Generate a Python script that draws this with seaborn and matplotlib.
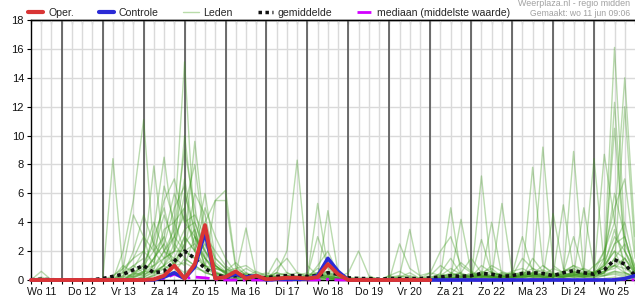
import numpy as np
import pandas as pd
import matplotlib
matplotlib.use("Agg")
import matplotlib.pyplot as plt
import seaborn as sns
from matplotlib.lines import Line2D

# ---- data (6-hourly steps, starting Wo 11 06:00) ----
day_labels = ["Wo 11", "Do 12", "Vr 13", "Za 14", "Zo 15", "Ma 16", "Di 17", "Wo 18",
              "Do 19", "Vr 20", "Za 21", "Zo 22", "Ma 23", "Di 24", "Wo 25"]
y_ticks = [0, 2, 4, 6, 8, 10, 12, 14, 16, 18]

oper = [0, 0, 0, 0, 0, 0, 0, 0, 0, 0, 0, 0, 0.05, 0.3, 1.0, 0.1, 1.1, 3.8, 0.1, 0.2,
        0.6, 0.1, 0.3, 0.05, 0.1, 0.15, 0.15, 0.1, 0.2, 1.1, 0.4, 0.0, 0, 0, 0, 0,
        0, 0, 0, 0]
controle = [0, 0, 0, 0, 0, 0, 0, 0, 0, 0, 0, 0, 0, 0.2, 0.5, 0.1, 0.9, 3.3, 0.1, 0.2,
            0.4, 0.2, 0.3, 0.0, 0.05, 0.05, 0.05, 0.05, 0.3, 1.5, 0.6, 0.0, 0, 0, 0, 0,
            0, 0, 0, 0, 0, 0, 0, 0, 0, 0, 0, 0, 0, 0, 0, 0, 0, 0, 0, 0, 0, 0, 0.1, 0.3]
gemiddelde = [0.02, 0.05, 0.02, 0, 0, 0, 0.02, 0.1, 0.25, 0.4, 0.7, 1.0, 0.5, 0.6, 1.3,
              2.0, 1.5, 0.8, 0.35, 0.2, 0.3, 0.3, 0.2, 0.15, 0.25, 0.3, 0.3, 0.25, 0.3,
              0.5, 0.4, 0.15, 0.1, 0.1, 0.05, 0.1, 0.1, 0.1, 0.1, 0.15, 0.2, 0.3, 0.25,
              0.3, 0.45, 0.4, 0.25, 0.3, 0.45, 0.5, 0.45, 0.3, 0.5, 0.65, 0.5, 0.4, 0.7,
              1.4, 1.1, 0.3]
mediaan = [0, 0, 0, 0, 0, 0, 0, 0, 0, 0, 0, 0, 0.05, 0.1, 0.4, 0.1, 0.2, 0.15, 0.05, 0,
           0, 0, 0, 0, 0, 0, 0, 0, 0, 0.05, 0, 0, 0, 0, 0, 0, 0, 0, 0, 0,
           0, 0, 0, 0, 0, 0, 0, 0, 0, 0, 0, 0, 0, 0, 0, 0, 0, 0.05, 0.05, 0]

m01 = [0, 0.6, 0, 0, 0, 0, 0, 0, 0.3, 0.8, 1.5, 2.0, 1.2, 3.5, 4.0, 15.1, 3.0, 1.5, 0.5, 0.3, 0.2, 0.5, 0.1, 0, 0.2, 0.1, 0, 0, 0.4, 1.2, 0.3, 0, 0, 0, 0, 0, 0.2, 0.5, 0.1, 0, 0.3, 0.8, 0.4, 0.2, 1.0, 0.5, 0.3, 0.1, 0.4, 0.8, 0.3, 0.2, 0.5, 1.0, 0.4, 0.3, 1.5, 16.1, 3.0, 0.5]
m02 = [0, 0, 0, 0, 0, 0, 0, 0, 8.4, 0.5, 0.2, 0.6, 1.5, 2.5, 5.0, 6.5, 2.0, 0.8, 5.5, 6.2, 1.0, 0.3, 0.2, 0.1, 0, 0.3, 0.5, 0.2, 0.8, 0.5, 0.1, 0, 0, 0.1, 0, 0.3, 0.6, 0.2, 0, 0.1, 0.2, 0.4, 1.2, 0.6, 0.3, 0.2, 0.5, 0.4, 0.2, 1.5, 0.6, 0.3, 0.2, 0.4, 0.8, 0.5, 2.0, 4.0, 14.0, 3.0]
m03 = [0, 0, 0, 0, 0, 0, 0, 0, 0, 2.0, 5.5, 11.1, 2.0, 3.0, 1.0, 2.5, 9.6, 3.0, 1.0, 0.5, 0.3, 0.8, 0.4, 0.1, 0, 0, 0.2, 0.3, 0.5, 0.2, 0, 0, 0, 0, 0, 0, 0, 0.1, 0, 0, 0.2, 0.5, 0.3, 0.1, 0.5, 0.8, 0.2, 0.3, 0.6, 0.3, 9.2, 1.0, 0.5, 0.3, 0.2, 0.5, 1.0, 3.5, 1.0, 0.2]
m04 = [0, 0, 0, 0, 0, 0, 0, 0, 0, 0.5, 1.0, 1.5, 7.9, 2.0, 3.0, 4.5, 2.5, 6.0, 1.5, 0.8, 0.4, 3.6, 0.3, 0.5, 0.2, 0.3, 0.1, 0, 0.3, 0.6, 0.2, 0, 0.1, 0, 0, 0.2, 0.3, 0.1, 0, 0, 0.1, 0.2, 0.1, 0, 7.2, 0.3, 0.5, 0.2, 0.1, 0.4, 0.2, 0, 0.3, 0.5, 0.8, 8.4, 1.0, 2.0, 0.5, 0.3]
m05 = [0, 0, 0, 0, 0, 0, 0, 0, 0, 0, 0.5, 1.0, 3.0, 5.0, 2.0, 3.5, 4.0, 2.0, 1.0, 0.5, 0.2, 0.2, 0.1, 0, 0.5, 2.0, 8.3, 1.0, 0.3, 0.2, 0, 0, 0, 0, 0, 0.1, 0, 0, 0, 0, 0, 0.3, 0.5, 0.2, 0.4, 0.2, 0.1, 0.2, 0.3, 7.8, 1.0, 0.4, 0.2, 0.6, 0.3, 0.2, 0.5, 1.5, 2.5, 1.0]
m06 = [0, 0, 0, 0, 0, 0, 0, 0, 0.2, 1.0, 0.5, 0.3, 1.0, 6.5, 4.0, 2.0, 6.0, 4.5, 1.2, 0.6, 0.5, 0.3, 0.2, 0.1, 0.1, 0.1, 0, 0.2, 5.3, 0.8, 0.2, 0, 0, 0.2, 0.1, 0, 0.1, 0, 0, 0.2, 0.4, 0.3, 0.2, 0.5, 0.2, 0.1, 0.3, 0, 0.5, 0.3, 0.2, 4.6, 0.8, 0.4, 0.2, 0.4, 0.6, 12.3, 2.0, 0.8]
m07 = [0, 0.2, 0, 0, 0, 0, 0, 0, 0, 0.3, 2.0, 4.5, 2.5, 1.5, 3.0, 7.0, 3.0, 1.5, 0.5, 0.3, 0.3, 0.2, 0.1, 0, 0.3, 0.2, 0.1, 0, 0.2, 4.8, 0.5, 0, 0, 0, 0, 0, 0.3, 3.5, 0.2, 0.1, 0.2, 0.2, 0.1, 0.3, 0.4, 0.6, 0.2, 0.2, 0.2, 0.3, 0.5, 0.3, 5.2, 0.6, 0.4, 0.5, 0.8, 1.0, 1.5, 0.4]
m08 = [0, 0, 0, 0, 0, 0, 0, 0, 0, 0, 0.2, 0.5, 1.5, 3.0, 6.0, 4.0, 3.0, 1.0, 0.8, 0.6, 1.2, 0.5, 0.3, 0.2, 0.5, 0.3, 0.1, 0, 0.1, 0.3, 0.1, 0, 0, 0, 0, 0, 0, 0, 0.1, 0.5, 0.3, 5.0, 0.4, 0.2, 0.3, 4.0, 0.3, 0.2, 0.4, 0.2, 0.1, 0.3, 0.4, 8.9, 0.5, 0.4, 1.0, 10.5, 2.0, 0.5]
m09 = [0, 0, 0, 0, 0, 0, 0, 0, 0, 0.6, 1.5, 3.0, 2.0, 4.5, 2.5, 5.0, 8.0, 2.5, 1.0, 0.4, 0.3, 0.2, 0.6, 0.3, 0.2, 0.1, 0.1, 0.3, 0.5, 0.5, 0.3, 0.2, 0, 0, 0, 0, 0.2, 0.3, 0.1, 0, 0.1, 0.3, 0.5, 1.5, 0.5, 0.2, 5.3, 0.5, 0.3, 0.5, 0.2, 0.3, 0.2, 0.3, 5.0, 0.8, 2.0, 5.0, 7.0, 1.5]
m10 = [0, 0, 0, 0, 0, 0, 0, 0, 0, 0.2, 0.8, 2.0, 4.0, 2.0, 1.0, 3.0, 2.0, 4.0, 5.5, 5.5, 0.8, 0.4, 0.2, 0.2, 0.3, 0.5, 0.2, 0.1, 1.0, 2.0, 0.4, 0.1, 0.2, 0, 0, 0, 0, 0, 0, 0, 0.2, 0.1, 0.3, 0.2, 0.2, 0.5, 0.3, 0.6, 0.8, 0.4, 0.3, 0.2, 0.4, 0.3, 0.6, 0.5, 8.7, 4.0, 1.0, 0.3]
m11 = [0, 0, 0, 0, 0, 0, 0, 0, 0, 0, 0.4, 0.8, 1.0, 2.0, 3.5, 9.0, 5.0, 1.5, 0.8, 0.5, 0.6, 0.3, 0.2, 0.1, 0, 0.3, 0.2, 0.2, 0.3, 0.5, 0.1, 0, 0, 0, 0.1, 0, 0, 0.2, 0.1, 0.3, 1.0, 0.5, 0.2, 0.2, 0.6, 0.3, 0.2, 0.4, 3.0, 0.6, 0.3, 0.2, 0.6, 0.8, 0.3, 1.0, 1.5, 6.0, 3.0, 0.5]
m12 = [0, 0, 0, 0, 0, 0, 0, 0, 0, 0.8, 4.5, 3.0, 0.5, 1.0, 2.0, 6.0, 3.5, 0.8, 0.4, 0.2, 0.1, 0.3, 0.1, 0, 0.1, 0.2, 0.3, 0.5, 0.2, 0.1, 0, 0, 0, 0, 0, 0, 0.1, 0.1, 0, 0.2, 0.3, 0.2, 4.2, 0.5, 0.3, 0.2, 0.4, 0.3, 0.2, 0.5, 0.7, 0.4, 0.3, 0.5, 0.4, 0.3, 0.5, 2.5, 4.0, 0.8]
m13 = [0, 0, 0, 0, 0, 0, 0, 0, 0, 0, 0.3, 1.2, 2.5, 5.5, 7.0, 4.0, 4.5, 3.0, 1.5, 0.8, 0.5, 0.2, 0.3, 0.2, 0.1, 0.1, 0, 0, 0.3, 1.5, 0.5, 0.2, 0, 0, 0, 0, 0, 0, 0, 0, 0.1, 0.2, 0.3, 0.2, 2.8, 0.5, 0.3, 0.2, 0.5, 0.4, 0.3, 0.8, 0.5, 3.0, 0.5, 0.3, 1.2, 3.0, 2.0, 0.4]
m14 = [0, 0, 0, 0, 0, 0, 0, 0, 0, 0.3, 1.0, 0.5, 3.5, 8.5, 3.0, 2.0, 1.5, 2.5, 1.0, 0.4, 0.2, 0.1, 0.1, 0, 0, 0, 0.1, 0.2, 0.4, 0.3, 0.1, 0, 0, 0, 0, 0, 0, 0, 0, 0.1, 0.2, 0.4, 0.2, 0.3, 0.4, 0.3, 0.2, 0.5, 0.4, 0.3, 0.2, 0.2, 0.3, 0.4, 0.3, 0.4, 0.6, 0.8, 1.5, 0.6]
m15 = [0, 0, 0, 0, 0, 0, 0, 0, 0, 0, 0.1, 0.5, 1.0, 1.5, 2.0, 10.0, 4.0, 2.0, 0.6, 0.3, 0.4, 0.2, 0.2, 0.1, 0.2, 0.1, 0, 0.1, 0.2, 0.2, 0, 0, 0, 0.1, 0, 0.3, 0.1, 0, 0, 0, 0, 0.1, 0.2, 0.4, 0.2, 0.3, 0.1, 0.2, 0.3, 0.2, 0.4, 0.3, 0.4, 0.2, 0.3, 0.2, 0.5, 1.0, 12.0, 2.0]
m16 = [0, 0, 0, 0, 0, 0, 0, 0, 0, 0, 0, 0.2, 0.5, 1.0, 1.5, 3.0, 2.0, 5.0, 3.0, 1.5, 0.5, 0.3, 0.2, 0.2, 0.5, 0.3, 0.2, 0.3, 0.2, 0.1, 0, 0, 0, 0, 0, 0, 0, 0, 0, 0, 0, 0, 0.1, 0.1, 0.2, 0.1, 0.2, 0.2, 0.3, 0.2, 0.1, 0.3, 0.2, 0.3, 0.5, 0.4, 0.3, 0.6, 0.5, 0.2]
m17 = [0, 0, 0, 0, 0, 0, 0, 0, 0, 0, 0, 0, 0.3, 0.8, 1.2, 2.5, 3.5, 1.0, 0.5, 0.2, 0.3, 0.1, 0, 0, 0, 0.1, 0.1, 0, 0.2, 0.3, 0.1, 0, 0, 0, 0, 0, 0, 0, 0, 0, 0, 0, 0, 0, 0.1, 0.2, 0.1, 0, 0.1, 0.3, 0.2, 0.1, 0.2, 0.3, 0.2, 0.2, 0.3, 0.5, 0.3, 0.1]
m18 = [0, 0, 0, 0, 0, 0, 0, 0, 0, 0, 0, 0, 0.4, 1.0, 2.5, 1.5, 1.0, 0.5, 0.3, 0.2, 0.1, 0.1, 0, 0, 0.1, 0, 0, 0, 0.1, 0.2, 0, 0, 0, 0, 0, 0, 0, 0, 0, 0, 0, 0.1, 0, 0.1, 0.3, 0.2, 0, 0.1, 0.2, 0.1, 0, 0.1, 0.1, 0.2, 0.2, 0.1, 0.3, 0.4, 0.2, 0.1]
m19 = [0, 0, 0, 0, 0, 0, 0, 0, 0, 0, 0, 0.2, 0.6, 0.8, 1.0, 1.2, 0.8, 0.6, 0.2, 0.1, 0.1, 0, 0, 0, 0, 0, 0, 0, 0, 0.1, 0, 0, 0, 0, 0, 0, 0, 0, 0, 0, 0, 0, 0, 0, 0, 0, 0, 0, 0, 0.1, 0, 0, 0.1, 0, 0, 0, 0.1, 0.2, 0.1, 0]
m20 = [0, 0, 0, 0, 0, 0, 0, 0, 0, 0.1, 0.3, 0.6, 0.5, 1.5, 2.0, 2.0, 1.5, 1.0, 0.4, 0.3, 0.2, 0.2, 0.1, 0.1, 0, 0, 0, 0, 0.2, 0.4, 0.1, 0, 0, 0, 0, 0, 0.1, 0.1, 0, 0, 0.1, 0.2, 0.1, 0.2, 0.3, 0.2, 0.1, 0.2, 0.2, 0.3, 0.2, 0.2, 0.3, 0.2, 0.2, 0.3, 0.5, 1.5, 1.0, 0.3]
m21 = [0, 0, 0, 0, 0, 0, 0, 0, 0, 0, 0.5, 1.0, 2.0, 1.0, 0.5, 1.5, 1.0, 0.5, 0.3, 0.2, 0.1, 0, 0, 0, 0, 0, 0, 0, 0, 0, 0.2, 0.5, 2.0, 0.3, 0, 0, 2.5, 0.8, 0.3, 0.5, 2.0, 3.0, 1.0, 0.5, 0.3, 0.2, 0.1, 0.1, 0.3, 0.5, 0.3, 0.3, 0.5, 0.4, 0.3, 0.5, 0.6, 1.0, 0.5, 0.2]
m22 = [0, 0, 0, 0, 0, 0, 0, 0, 0, 0, 0, 0.3, 0.8, 2.0, 1.5, 1.0, 3.0, 2.0, 1.0, 0.5, 0.3, 0.2, 0.1, 0, 0.8, 1.5, 0.5, 0.3, 3.0, 1.0, 0.2, 0, 0, 0, 0, 0, 0, 0, 0, 0, 0, 0, 0, 0, 0.4, 1.0, 0.6, 0.3, 1.5, 0.8, 0.5, 0.4, 0.6, 1.0, 0.7, 0.5, 1.0, 2.0, 1.5, 0.4]
m23 = [0, 0, 0, 0, 0, 0, 0, 0, 0, 0.2, 0.4, 0.5, 1.5, 2.5, 1.0, 0.5, 1.0, 3.0, 2.0, 1.0, 0.5, 0.2, 0.1, 0.2, 1.5, 0.5, 0.2, 0.1, 0.5, 0.3, 0.1, 0, 0, 0, 0, 0, 0, 0, 0, 0, 0.5, 1.5, 0.4, 0.3, 0.2, 0.3, 0.2, 0.5, 0.3, 0.4, 1.0, 0.5, 0.3, 0.5, 0.4, 0.5, 0.8, 2.5, 3.0, 0.6]
m24 = [0, 0, 0, 0, 0, 0, 0, 0, 0, 0, 0.2, 0.4, 0.6, 1.0, 4.0, 5.0, 2.0, 1.0, 0.5, 0.3, 0.3, 0.4, 0.2, 0.1, 0.2, 0.2, 0.1, 0, 0.2, 0.2, 0.1, 0, 0, 0, 0, 0, 0, 0, 0, 0, 0, 0, 0, 0.1, 0.2, 0.3, 0.2, 0.2, 0.3, 0.2, 0.1, 0.1, 0.2, 0.4, 0.3, 0.5, 0.4, 0.6, 0.4, 0.2]
m25 = [0, 0, 0, 0, 0, 0, 0, 0, 0, 0, 0, 0.1, 0.3, 0.5, 1.0, 2.0, 2.5, 1.5, 0.8, 0.6, 0.8, 1.0, 0.5, 0.3, 0.2, 0.1, 0.1, 0, 0.1, 0.1, 0, 0, 0, 0, 0, 0, 0, 0, 0, 0, 0, 0.1, 0.2, 0.1, 0.1, 0.2, 0.1, 0.1, 0.2, 0.3, 0.4, 0.3, 0.2, 0.3, 0.4, 0.6, 0.8, 1.0, 0.8, 0.3]

leden = [m01, m02, m03, m04, m05, m06, m07, m08, m09, m10, m11, m12, m13,
         m14, m15, m16, m17, m18, m19, m20, m21, m22, m23, m24, m25]

# ---- style ----
sns.set_style("white")
plt.rcParams['font.family'] = ['Liberation Sans', 'DejaVu Sans']

fig = plt.figure(figsize=(6.35, 3.0), dpi=100)
ax = fig.add_axes([31 / 635, 20 / 300, 604 / 635, 260 / 300])

rows = []
for k, m in enumerate(leden):
    for i, v in enumerate(m):
        rows.append((k, i, v))
df_leden = pd.DataFrame(rows, columns=["lid", "t", "v"])

n = len(gemiddelde)
df_main = pd.DataFrame({"t": np.arange(n), "gem": gemiddelde, "med": mediaan, "ctrl": controle})
df_oper = pd.DataFrame({"t": np.arange(len(oper)), "v": oper})

green = "#3f9a1f"
sns.lineplot(data=df_leden, x="t", y="v", units="lid", estimator=None, color=green,
             alpha=0.36, lw=1.0, ax=ax, legend=False, zorder=3)
sns.lineplot(data=df_main, x="t", y="med", color="#d200ff", lw=2.0, ax=ax,
             linestyle=(0, (5, 2, 1, 2)), zorder=4, clip_on=False)
sns.lineplot(data=df_main, x="t", y="gem", color="#111111", lw=2.6, ax=ax,
             linestyle=(0, (1, 1)), zorder=5)
sns.lineplot(data=df_main, x="t", y="ctrl", color="#2a2ad6", lw=2.6, ax=ax, zorder=6,
             clip_on=False)
sns.lineplot(data=df_oper, x="t", y="v", color="#d93535", lw=2.8, ax=ax, zorder=7,
             clip_on=False)

ax.set_xlim(0, n - 1)
ax.set_ylim(0, 18)
ax.set_xlabel("")
ax.set_ylabel("")

# ticks
noon = [1 + 4 * d for d in range(len(day_labels))]
ax.set_xticks(noon)
ax.set_xticklabels(day_labels)
ax.set_xticks(np.arange(n), minor=True)
ax.set_yticks(y_ticks)

# grid: light 6-hourly verticals, light horizontals, dark midnight lines
ax.grid(False)
for i in range(1, n - 1):
    ax.axvline(i, color="#dadada", lw=1.0, zorder=0.5)
for yv in y_ticks[1:-1]:
    ax.axhline(yv, color="#dadada", lw=1.0, zorder=0.5)
for d in range(1, len(day_labels)):
    ax.axvline(3 + 4 * (d - 1), color="#555555", lw=1.2, zorder=1)

ax.tick_params(axis="x", which="both", direction="out", length=3, width=0.8,
               color="black", labelsize=7.6, pad=2, labelcolor="#111111", bottom=True)
ax.tick_params(axis="y", which="major", direction="out", length=3, width=0.8,
               color="black", labelsize=8, pad=2, labelcolor="#111111", left=True)

sec = ax.secondary_xaxis("top")
sec.set_xticks(np.arange(n))
sec.tick_params(direction="in", length=3, width=0.8, color="black", labeltop=False)
sec.spines["top"].set_color("black")
sec.spines["top"].set_linewidth(1.0)

for s in ["left", "bottom", "top"]:
    ax.spines[s].set_visible(True)
    ax.spines[s].set_color("black")
    ax.spines[s].set_linewidth(1.0)
ax.spines["right"].set_visible(False)

# legend
handles = [
    Line2D([], [], color="#d93535", lw=3),
    Line2D([], [], color="#2a2ad6", lw=3),
    Line2D([], [], color="#b9dcaa", lw=1),
    Line2D([], [], color="#111111", lw=2.5, linestyle=(0, (1, 1))),
    Line2D([], [], color="#d200ff", lw=2, linestyle=(0, (5, 2, 1, 2))),
]
labels = ["Oper.", "Controle", "Leden", "gemiddelde", "mediaan (middelste waarde)"]
fig.legend(handles, labels, ncol=5, loc="center left", bbox_to_anchor=(28 / 635, 1 - 13 / 300),
           frameon=False, fontsize=7.6, handlelength=1.45, handletextpad=0.45,
           columnspacing=2.35, borderpad=0, borderaxespad=0)

fig.text(630 / 635, 1 - 4 / 300, "Weerplaza.nl - regio midden", ha="right", va="center",
         fontsize=6.4, color="#a0a0a0")
fig.text(630 / 635, 1 - 14 / 300, "Gemaakt: wo 11 jun 09:06", ha="right", va="center",
         fontsize=6.2, color="#a0a0a0")

fig.savefig("out.png", dpi=100)
